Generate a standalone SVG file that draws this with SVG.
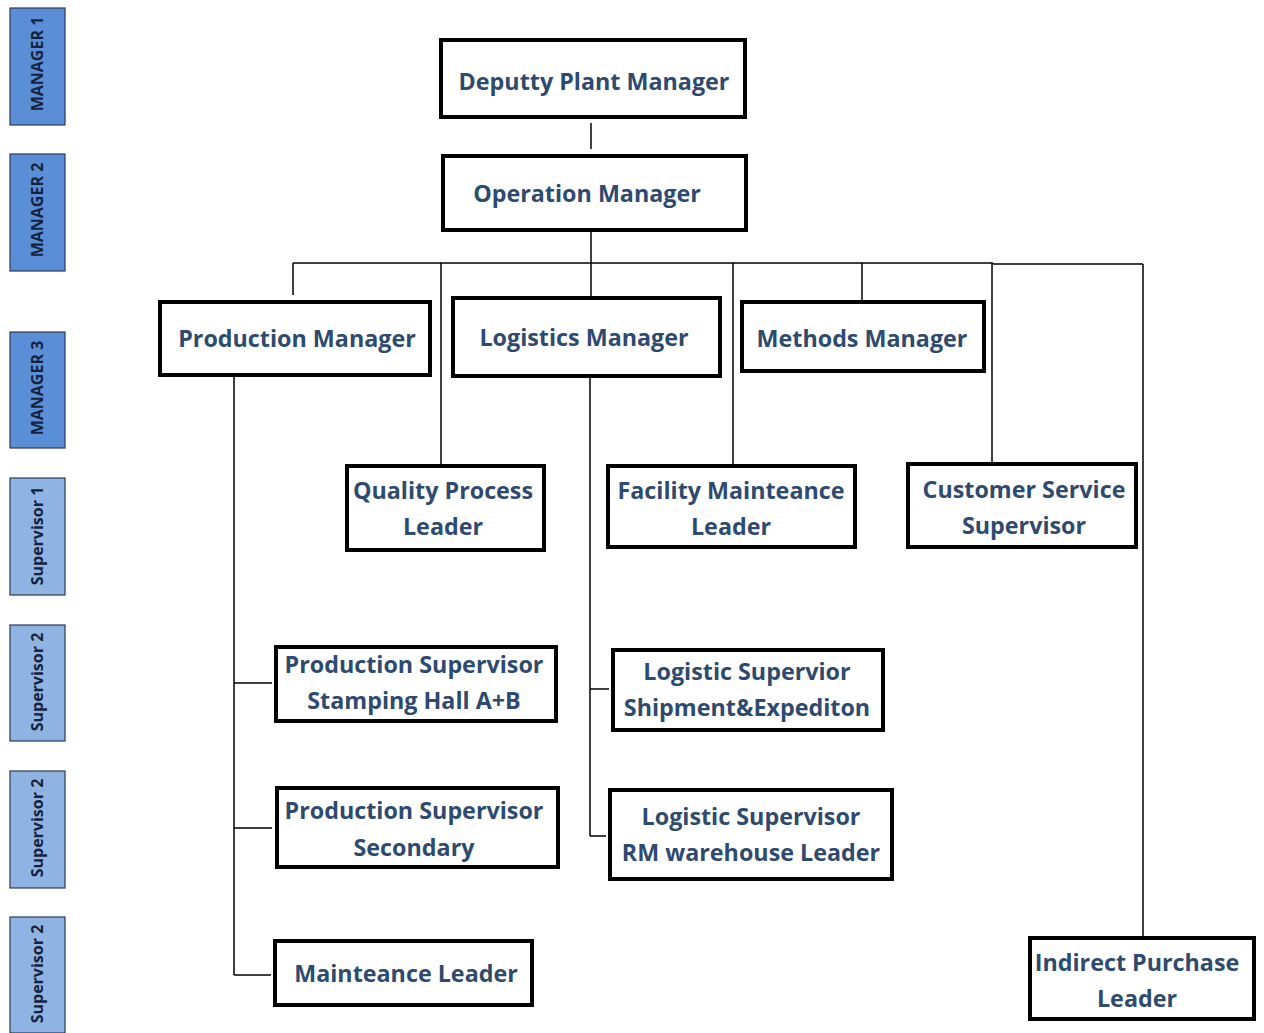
<svg xmlns="http://www.w3.org/2000/svg" width="1264" height="1033" viewBox="0 0 1264 1033">
<style>
.node rect{fill:#fff;stroke:#000;stroke-width:4}
.node text{font-family:"Open Sans","Liberation Sans",sans-serif;font-weight:700;font-size:23.3px;fill:#2e4a6e;text-anchor:middle;dominant-baseline:central}
.side rect{stroke:#2b3a55;stroke-width:1.2}
.side .m{fill:#5a8fd8}
.side .s{fill:#8fb4e4}
.side text{font-family:"Open Sans","Liberation Sans",sans-serif;font-weight:700;font-size:16px;fill:#15233f;text-anchor:middle;dominant-baseline:central}
.conn{stroke:#000;stroke-width:1.5;fill:none}
</style>
<rect width="1264" height="1033" fill="#fff"/>
<g id="sidebar" class="side">
<rect class="m" x="10" y="8" width="55" height="117"/><text transform="translate(37,64) rotate(-90)">MANAGER 1</text>
<rect class="m" x="10" y="154" width="55" height="117"/><text transform="translate(37,210) rotate(-90)">MANAGER 2</text>
<rect class="m" x="10" y="332" width="55" height="116"/><text transform="translate(37,388) rotate(-90)">MANAGER 3</text>
<rect class="s" x="10" y="478" width="55" height="117"/><text transform="translate(37,536) rotate(-90)">Supervisor 1</text>
<rect class="s" x="10" y="625" width="55" height="116"/><text transform="translate(37,682) rotate(-90)">Supervisor 2</text>
<rect class="s" x="10" y="771" width="55" height="117"/><text transform="translate(37,828) rotate(-90)">Supervisor 2</text>
<rect class="s" x="10" y="917" width="55" height="116"/><text transform="translate(37,974) rotate(-90)">Supervisor 2</text>
</g>
<g id="connectors" class="conn">
<path d="M591 123V149"/>
<path d="M591 230V263"/>
<path d="M293 263H993M993 264H1143"/>
<path d="M293 263V295M441 263V465M591 263V297M733 263V465M862 263V302M992 263V463M1143 264V937"/>
<path d="M234 375V975M234 683H272M234 828H272M234 975H271"/>
<path d="M590 378V836M590 689H609M590 836H606"/>
</g>
<g id="n1" class="node"><rect x="441" y="40" width="304" height="77"/><text x="594" y="81">Deputty Plant Manager</text></g>
<g id="n2" class="node"><rect x="443" y="156" width="303" height="74"/><text x="587" y="193">Operation Manager</text></g>
<g id="n3" class="node"><rect x="160" y="302" width="270" height="73"/><text x="297" y="338">Production Manager</text></g>
<g id="n4" class="node"><rect x="453" y="298" width="267" height="78"/><text x="584" y="337">Logistics Manager</text></g>
<g id="n5" class="node"><rect x="742" y="302" width="242" height="69"/><text x="862" y="338">Methods Manager</text></g>
<g id="n6" class="node"><rect x="347" y="466" width="197" height="84"/><text x="443" y="490">Quality Process</text><text x="443" y="526">Leader</text></g>
<g id="n7" class="node"><rect x="608" y="466" width="247" height="81"/><text x="731" y="490">Facility Mainteance</text><text x="731" y="526">Leader</text></g>
<g id="n8" class="node"><rect x="908" y="464" width="228" height="83"/><text x="1024" y="489">Customer Service</text><text x="1024" y="525">Supervisor</text></g>
<g id="n9" class="node"><rect x="276" y="647" width="280" height="74"/><text x="414" y="664">Production Supervisor</text><text x="414" y="700">Stamping Hall A+B</text></g>
<g id="n10" class="node"><rect x="277" y="788" width="281" height="79"/><text x="414" y="810">Production Supervisor</text><text x="414" y="847">Secondary</text></g>
<g id="n11" class="node"><rect x="275" y="941" width="257" height="64"/><text x="406" y="973">Mainteance Leader</text></g>
<g id="n12" class="node"><rect x="613" y="650" width="270" height="80"/><text x="747" y="671">Logistic Supervior</text><text x="747" y="707">Shipment&amp;Expediton</text></g>
<g id="n13" class="node"><rect x="610" y="790" width="282" height="89"/><text x="751" y="816">Logistic Supervisor</text><text x="751" y="852">RM warehouse Leader</text></g>
<g id="n14" class="node"><rect x="1030" y="938" width="224" height="81"/><text x="1137" y="962">Indirect Purchase</text><text x="1137" y="998">Leader</text></g>
</svg>
